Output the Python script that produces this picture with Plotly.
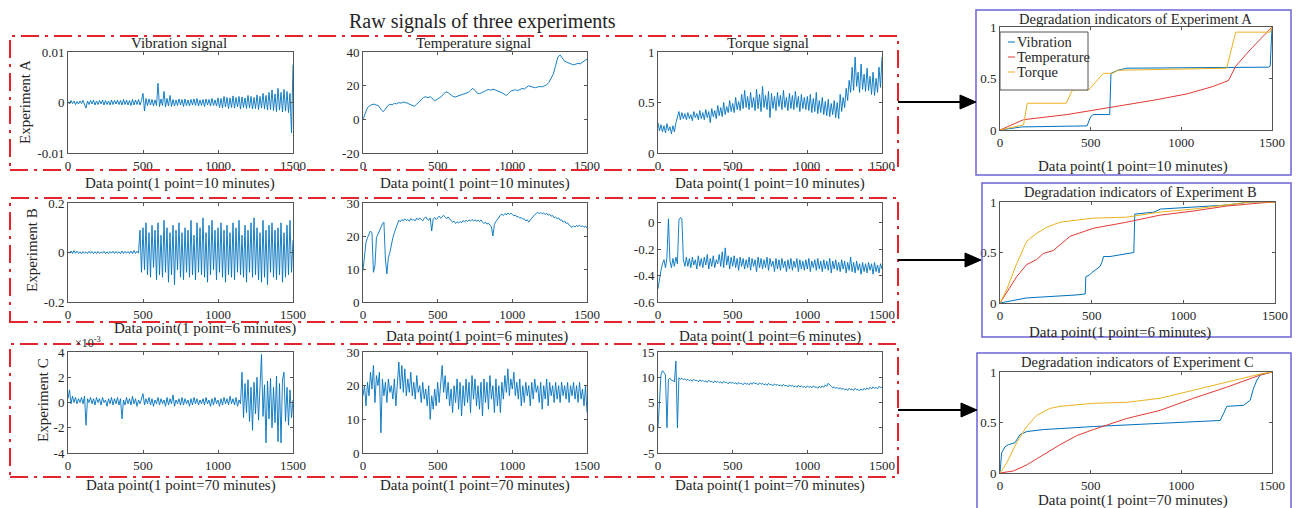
import numpy as np
import plotly.graph_objects as go

# ---------------- DATA ----------------
# x positions of raw signals: data-point index 0..1500 sampled evenly
# Experiment A
vib_a_x1e4 = [2,-3,4,-2,3,-4,2,-3,3,-2,
              4,-3,-11,3,-4,4,-3,5,-5,3,
              -4,4,-3,5,-5,4,-4,3,-5,5,
              -4,4,-3,5,-4,4,-5,6,-4,5,
              -5,4,-6,6,-5,5,-4,6,-5,4,
              18,-17,8,-6,7,-5,6,-7,5,-6,
              38,-8,7,-6,22,-9,8,-7,14,-8,
              6,-7,5,-6,7,-5,6,-8,7,-6,
              5,-7,6,-5,7,-6,8,-7,5,-6,
              6,-8,7,-5,6,-7,8,-6,5,-7,
              9,-10,8,-11,12,-9,10,-12,9,-10,
              13,-11,10,-9,12,-13,11,-10,9,-12,
              14,-11,12,-13,10,-12,15,-14,12,-11,
              18,-13,14,-15,20,-14,25,-16,17,-18,
              28,-15,20,-19,26,-17,22,-20,18,-60,
              75]
temp_a = [0,4,7,8,8.8,9,8.6,8,6,4.5,6,8,9,8.6,9.5,9.2,10,9.6,10.3,10,
          9.5,8.8,8.2,7.8,9,10.5,12,13,13.4,12.8,13.5,12.4,11,11.8,12.5,13.5,15,16.4,15.8,14.6,
          13.8,13.2,13.6,14.2,14.8,15.2,15.5,16,17.2,18.4,17.2,15.5,15.2,15.8,16.4,17,17.8,17.3,17.9,17.5,
          17,16.6,15.8,15,14.2,15.5,16.8,17.2,17.6,17,17.8,18.3,18,19,20,19.4,19,18.8,19.2,19.5,
          19.3,19.8,20.5,22,24.3,27,32,37,38.2,36,34.5,34,33.3,32.8,32.4,32.8,33.2,33,33.8,35,35.8]
torque_a = [0.30,0.22,0.28,0.21,0.27,0.20,0.29,0.22,0.26,0.19,
            0.27,0.21,0.30,0.36,0.41,0.33,0.40,0.34,0.39,0.33,
            0.40,0.34,0.38,0.32,0.41,0.35,0.39,0.33,0.42,0.34,
            0.40,0.33,0.43,0.35,0.41,0.30,0.44,0.36,0.42,0.34,
            0.47,0.37,0.45,0.36,0.50,0.38,0.46,0.40,0.52,0.41,
            0.49,0.40,0.55,0.43,0.51,0.42,0.58,0.44,0.62,0.45,
            0.56,0.43,0.60,0.45,0.55,0.42,0.63,0.44,0.58,0.41,
            0.66,0.45,0.57,0.43,0.61,0.35,0.59,0.44,0.56,0.42,
            0.60,0.46,0.57,0.43,0.62,0.45,0.55,0.42,0.59,0.44,
            0.57,0.43,0.61,0.45,0.56,0.41,0.58,0.44,0.55,0.43,
            0.56,0.42,0.58,0.40,0.54,0.41,0.60,0.39,0.52,0.40,
            0.55,0.38,0.51,0.37,0.53,0.36,0.49,0.38,0.52,0.35,
            0.50,0.34,0.58,0.41,0.55,0.45,0.64,0.52,0.72,0.60,
            0.85,0.62,0.95,0.66,0.80,0.60,0.88,0.63,0.78,0.61,
            0.84,0.62,0.76,0.58,0.80,0.57,0.74,0.60,0.85,0.65,
            0.95]
# Experiment B
vib_b = [0.004,-0.003,0.006,-0.004,0.008,-0.003,0.005,-0.004,0.003,-0.005,
         0.004,-0.003,0.003,-0.004,0.005,-0.003,0.004,-0.005,0.003,-0.004,
         0.004,-0.004,0.003,-0.003,0.005,-0.004,0.003,-0.005,0.004,-0.003,
         0.005,-0.004,0.004,-0.003,0.003,-0.005,0.006,-0.004,0.005,-0.003,
         0.004,-0.004,0.006,-0.005,0.008,-0.004,0.005,-0.003,0.09,-0.08,
         0.10,-0.07,0.12,-0.09,0.08,-0.10,0.11,-0.06,0.09,-0.11,
         0.12,-0.09,0.07,-0.10,0.13,-0.08,0.10,-0.12,0.08,-0.09,
         0.11,-0.13,0.09,-0.07,0.12,-0.10,0.08,-0.11,0.10,-0.08,
         0.09,-0.10,0.13,-0.09,0.07,-0.11,0.12,-0.08,0.10,-0.09,
         0.14,-0.10,0.08,-0.12,0.11,-0.09,0.13,-0.07,0.09,-0.11,
         0.10,-0.08,0.12,-0.10,0.09,-0.12,0.11,-0.09,0.08,-0.10,
         0.12,-0.11,0.10,-0.08,0.13,-0.09,0.07,-0.10,0.11,-0.12,
         0.09,-0.08,0.12,-0.10,0.14,-0.09,0.10,-0.11,0.08,-0.12,
         0.13,-0.10,0.09,-0.13,0.11,-0.08,0.12,-0.10,0.09,-0.11,
         0.10,-0.09,0.12,-0.12,0.08,-0.10,0.11,-0.09,0.13,-0.08,
         0.05]
temp_b = [9.6,14,18,19.5,20.6,21.5,21,9,11,19.5,20.5,21.5,22.8,23.7,24.2,13,8.5,13.5,15,18,
          19.5,21,22.5,24,24.8,24.3,25,24.6,25.2,24.7,
          25,24.5,25.3,24.8,25,24.6,25.4,24.9,25.5,25,
          24.6,25.3,25.8,25.1,24.8,25.5,21.5,25.2,25.6,25,
          25.6,26,25.4,25.9,26.3,25.7,25.2,25.8,25.1,24.6,
          24.2,24.5,23.8,24.3,23.9,24.4,24,24.7,24.2,24.8,
          24.4,24.9,24.5,25,24.6,24.9,24.5,24.8,24.4,24.9,
          24.2,23.8,24.2,23.6,23.9,23.4,22.8,20,23.5,24.4,
          25.2,25.6,26.3,26.6,26.2,26.8,26.4,27,26.5,26.9,
          26.6,26.1,26.4,25.8,25.9,25.4,25.6,25.1,25.2,24.6,
          24.9,24.2,24.8,25.4,26,26.5,26.8,27.2,26.8,27.1,
          26.7,27,26.5,26.9,26.3,26.6,26,26.2,25.5,25.8,
          25.2,25.5,24.8,24.9,24.2,24.5,23.8,24,23.3,22.8,
          22.6,23.1,22.7,23.2,22.9,23.3,22.8,23.1,22.6,23,
          22.4]
torque_b = [-0.50,-0.42,-0.36,-0.31,-0.28,-0.34,-0.26,0.03,-0.29,-0.34,
            -0.27,-0.33,-0.26,-0.31,0.02,0.04,0.03,-0.28,-0.33,-0.26,
            -0.33,-0.27,-0.34,-0.26,-0.32,-0.28,-0.35,-0.25,-0.33,-0.27,
            -0.34,-0.26,-0.32,-0.24,-0.35,-0.27,-0.33,-0.25,-0.34,-0.28,
            -0.31,-0.24,-0.33,-0.22,-0.34,-0.19,-0.32,-0.25,-0.35,-0.26,
            -0.33,-0.25,-0.34,-0.27,-0.36,-0.26,-0.33,-0.27,-0.35,-0.28,
            -0.34,-0.26,-0.36,-0.27,-0.33,-0.28,-0.37,-0.26,-0.34,-0.27,
            -0.35,-0.28,-0.34,-0.26,-0.36,-0.27,-0.33,-0.29,-0.37,-0.27,
            -0.35,-0.28,-0.36,-0.27,-0.34,-0.29,-0.37,-0.28,-0.35,-0.27,
            -0.36,-0.29,-0.34,-0.27,-0.37,-0.28,-0.35,-0.29,-0.36,-0.28,
            -0.35,-0.27,-0.37,-0.29,-0.34,-0.28,-0.36,-0.27,-0.35,-0.29,
            -0.37,-0.28,-0.35,-0.29,-0.36,-0.27,-0.38,-0.29,-0.35,-0.28,
            -0.36,-0.30,-0.37,-0.28,-0.35,-0.29,-0.38,-0.30,-0.36,-0.26,
            -0.37,-0.30,-0.38,-0.29,-0.36,-0.31,-0.39,-0.30,-0.37,-0.31,
            -0.38,-0.30,-0.36,-0.31,-0.39,-0.30,-0.37,-0.32,-0.38,-0.31,
            -0.35]
# Experiment C (vibration in units of 1e-3)
vib_c = [0.3,1.0,-0.1,0.5,0.0,0.4,-0.1,0.3,0.0,0.4,
         -0.1,0.5,-1.8,0.3,0.0,0.4,-0.1,0.3,-0.2,0.4,
         0.0,0.3,-0.2,0.4,0.0,0.2,-0.3,0.3,-0.1,0.4,
         -0.2,0.3,-0.1,0.4,-0.2,0.3,-1.3,0.2,-0.2,0.4,
         -0.1,0.3,-0.2,0.5,-0.1,0.3,-0.3,0.2,-0.1,0.4,
         0.7,-0.2,0.3,-0.1,0.4,-0.2,0.3,-0.3,0.2,-0.1,
         0.4,-0.2,0.3,-0.1,0.2,-0.3,0.4,-0.2,0.3,-0.1,
         0.6,-0.3,0.2,-0.1,0.3,-0.2,0.4,-0.2,0.3,-0.1,
         0.2,-0.3,0.3,-0.2,0.4,-0.1,0.3,-0.2,0.2,-0.1,
         0.3,-0.2,0.4,-0.1,0.2,-0.3,0.3,-0.2,0.4,-0.1,
         0.2,-0.3,0.3,-0.2,0.4,-0.1,0.3,-0.2,0.5,-0.1,
         0.3,-0.2,0.4,-0.3,0.2,-0.1,2.4,-1.2,1.5,-0.8,
         1.8,-1.5,1.2,-2.2,1.6,-0.9,2.0,-1.4,1.3,3.8,
         -1.1,1.4,-3.2,1.7,-1.3,1.9,-2.0,1.2,-1.6,2.1,
         -3.1,1.5,-3.2,1.8,2.4,-1.5,1.2,-1.8,1.0,-1.2,
         0.2]
temp_c = [17,20,14,21,17,24,19,26,15,23,
          20,24,6,22,17,21,15,22,18,20,
          16,22,14,21,27,19,26,18,25,17,
          22,18,24,17,21,16,23,18,20,15,
          21,16,19,14,20,10,17,13,19,14,
          21,15,20,26,18,23,16,21,14,19,
          12,20,15,22,13,21,11,20,14,22,
          15,21,12,23,16,22,14,20,13,21,
          11,22,15,21,13,23,16,20,12,22,
          14,20,12,21,16,23,18,25,17,22,
          19,24,17,21,16,22,14,20,15,21,
          17,20,14,21,16,22,18,20,15,21,
          13,20,16,22,14,21,17,20,15,21,
          16,20,15,21,17,20,16,21,15,20,
          17,21,16,20,15,21,16,19,14,20,
          12]
torque_c = [0,5,10.5,11.3,10.8,10.5,0,9.6,9.8,9.4,9.3,9.1,13.2,0,9.9,9.6,9.8,9.5,9.7,9.4,
            9.6,9.3,9.5,9.2,9.6,9.3,9.4,9.1,9.5,9.2,
            9.4,9.1,9.3,9.0,9.4,9.1,9.2,8.9,9.3,9.0,
            9.2,8.9,9.1,8.8,9.2,8.9,9.0,8.7,9.1,8.8,
            9.0,8.7,8.9,8.6,9.0,8.7,8.8,8.5,8.9,8.6,
            8.8,8.5,8.9,8.6,9.0,8.7,8.8,8.5,8.9,8.6,
            8.8,8.5,8.7,8.4,8.8,8.5,8.6,8.3,8.7,8.4,
            8.6,8.3,8.5,8.2,8.6,8.3,8.4,8.1,8.5,8.2,
            8.4,8.1,8.3,8.0,8.4,8.1,8.3,8.0,8.2,7.9,
            8.3,8.0,8.2,7.9,8.3,8.0,8.1,7.8,8.2,7.9,
            8.3,8.0,8.5,8.2,8.8,8.4,8.2,7.9,8.1,7.8,
            8.0,7.7,7.9,7.6,7.8,7.5,7.7,7.4,7.8,7.5,
            7.7,7.4,7.8,7.5,7.6,7.3,7.7,7.4,7.8,7.5,
            7.9,7.6,8.0,7.7,8.1,7.8,8.0,7.7,8.2,7.9,
            8.1]

# Degradation indicators (breakpoints)
ind_a_vib_x = [0, 120, 480, 500, 515, 605, 612, 650, 700, 1480, 1490, 1500]
ind_a_vib_y = [0, 0.03, 0.04, 0.13, 0.15, 0.15, 0.55, 0.58, 0.60, 0.61, 0.62, 1.0]
ind_a_tmp_x = [0, 130, 370, 620, 850, 1030, 1170, 1260, 1300, 1380, 1500]
ind_a_tmp_y = [0, 0.10, 0.15, 0.22, 0.29, 0.35, 0.42, 0.48, 0.62, 0.78, 1.0]
ind_a_trq_x = [0, 100, 130, 150, 365, 400, 490, 570, 620, 650, 1250, 1300, 1490, 1500]
ind_a_trq_y = [0, 0.04, 0.05, 0.26, 0.26, 0.39, 0.39, 0.55, 0.55, 0.58, 0.60, 0.95, 0.95, 1.0]

ind_b_vib_x = [0, 90, 145, 420, 465, 468, 490, 500, 530, 545, 555, 565, 600, 655, 730, 735, 840, 875, 1050, 1240, 1365, 1500]
ind_b_vib_y = [0, 0.03, 0.05, 0.08, 0.09, 0.26, 0.28, 0.30, 0.34, 0.36, 0.40, 0.46, 0.46, 0.48, 0.50, 0.88, 0.90, 0.93, 0.95, 0.97, 1.0, 1.0]
ind_b_tmp_x = [0, 27, 91, 145, 200, 236, 291, 382, 509, 691, 873, 1054, 1236, 1418, 1500]
ind_b_tmp_y = [0, 0.08, 0.26, 0.38, 0.43, 0.49, 0.52, 0.66, 0.74, 0.80, 0.87, 0.91, 0.96, 0.99, 1.0]
ind_b_trq_x = [0, 36, 91, 145, 200, 255, 327, 509, 691, 873, 1054, 1236, 1364, 1500]
ind_b_trq_y = [0, 0.13, 0.39, 0.61, 0.69, 0.75, 0.80, 0.84, 0.85, 0.90, 0.93, 0.97, 1.0, 1.0]

ind_c_vib_x = [0, 9, 28, 46, 83, 110, 147, 239, 515, 883, 1214, 1233, 1251, 1343, 1380, 1398, 1417, 1435, 1500]
ind_c_vib_y = [0, 0.20, 0.26, 0.28, 0.30, 0.38, 0.41, 0.43, 0.46, 0.49, 0.52, 0.59, 0.66, 0.67, 0.72, 0.84, 0.92, 0.97, 1.0]
ind_c_tmp_x = [0, 74, 147, 239, 331, 423, 515, 699, 883, 1067, 1251, 1435, 1500]
ind_c_tmp_y = [0, 0.02, 0.08, 0.18, 0.28, 0.37, 0.43, 0.54, 0.62, 0.74, 0.85, 0.97, 1.0]
ind_c_trq_x = [0, 37, 92, 147, 202, 276, 331, 515, 699, 883, 1067, 1251, 1435, 1500]
ind_c_trq_y = [0, 0.10, 0.30, 0.46, 0.57, 0.64, 0.66, 0.69, 0.70, 0.74, 0.82, 0.90, 0.98, 1.0]

x_ticks = [0, 500, 1000, 1500]
x_labels = ["Data point(1 point=10 minutes)", "Data point(1 point=6 minutes)", "Data point(1 point=70 minutes)"]
legend_names = ["Vibration", "Temperature", "Torque"]

# ---------------- STYLE / LAYOUT ----------------
W, H = 1296, 508
def px(x): return x / W
def py(y): return 1 - y / H

FONT = "Liberation Serif, Times New Roman, serif"
TXT = "#262626"
AX = "#555555"
BLUE = "#0072BD"
RED = "#E23A34"
ORANGE = "#EDB120"
BOXRED = "#E5252E"
BOXBLUE = "#6B63D6"

fig = go.Figure()
layout = dict(width=W, height=H, margin=dict(l=0, r=0, t=0, b=0, autoexpand=False),
              template="none",
              paper_bgcolor="white", plot_bgcolor="white", showlegend=False,
              font=dict(family=FONT, color=TXT))

def add_axes(n, xpx, ypx, yrange, ytv, ytt, tsize=13):
    sfx = "" if n == 1 else str(n)
    common = dict(showline=True, mirror="ticks", linecolor=AX, linewidth=1,
                  ticks="inside", ticklen=3, tickcolor=AX, showgrid=False,
                  zeroline=False, automargin=False,
                  tickfont=dict(family=FONT, size=tsize, color=TXT))
    layout["xaxis" + sfx] = dict(domain=[px(xpx[0]), px(xpx[1])], range=[0, 1500],
                                 tickvals=x_ticks, ticktext=[str(v) for v in x_ticks],
                                 anchor="y" + sfx, **common)
    layout["yaxis" + sfx] = dict(domain=[py(ypx[1]), py(ypx[0])], range=yrange,
                                 tickvals=ytv, ticktext=ytt, anchor="x" + sfx, **common)
    return "x" + sfx, "y" + sfx

def raw_trace(xa, ya, yvals, width=0.8):
    xs = np.linspace(0, 1500, len(yvals))
    fig.add_trace(go.Scatter(x=xs, y=yvals, mode="lines", xaxis=xa, yaxis=ya,
                             line=dict(color=BLUE, width=width), hoverinfo="skip"))

cols = [(68, 293), (363, 587), (658, 882)]
rows = [(52, 153), (203, 302), (352, 453)]

vib_a = [v * 1e-4 for v in vib_a_x1e4]
raw = [
    [(vib_a, [-0.01, 0.01], [-0.01, 0, 0.01], ["-0.01", "0", "0.01"]),
     (temp_a, [-20, 40], [-20, 0, 20, 40], ["-20", "0", "20", "40"]),
     (torque_a, [0, 1], [0, 0.5, 1], ["0", "0.5", "1"])],
    [(vib_b, [-0.2, 0.2], [-0.2, 0, 0.2], ["-0.2", "0", "0.2"]),
     (temp_b, [0, 30], [0, 10, 20, 30], ["0", "10", "20", "30"]),
     (torque_b, [-0.6, 0.15], [-0.6, -0.4, -0.2, 0], ["-0.6", "-0.4", "-0.2", "0"])],
    [(vib_c, [-4, 4], [-4, -2, 0, 2, 4], ["-4", "-2", "0", "2", "4"]),
     (temp_c, [0, 30], [0, 10, 20, 30], ["0", "10", "20", "30"]),
     (torque_c, [-5, 15], [-5, 0, 5, 10, 15], ["-5", "0", "5", "10", "15"])],
]
n = 1
for r in range(3):
    for c in range(3):
        yv, yr, tv, tt = raw[r][c]
        xa, ya = add_axes(n, cols[c], rows[r], yr, tv, tt)
        raw_trace(xa, ya, yv, width=0.9)
        n += 1

ind_axes = [((1000, 1272), (27, 130)), ((1000, 1275), (202, 303)), ((1000, 1272), (372, 473))]
ind_data = [
    [(ind_a_vib_x, ind_a_vib_y), (ind_a_tmp_x, ind_a_tmp_y), (ind_a_trq_x, ind_a_trq_y)],
    [(ind_b_vib_x, ind_b_vib_y), (ind_b_tmp_x, ind_b_tmp_y), (ind_b_trq_x, ind_b_trq_y)],
    [(ind_c_vib_x, ind_c_vib_y), (ind_c_tmp_x, ind_c_tmp_y), (ind_c_trq_x, ind_c_trq_y)],
]
colors3 = [BLUE, RED, ORANGE]
for i in range(3):
    xa, ya = add_axes(n, ind_axes[i][0], ind_axes[i][1], [0, 1], [0, 0.5, 1], ["0", "0.5", "1"])
    for k in range(3):
        xs, ys = ind_data[i][k]
        fig.add_trace(go.Scatter(x=xs, y=ys, mode="lines", xaxis=xa, yaxis=ya, name=legend_names[k],
                                 line=dict(color=colors3[k], width=1), hoverinfo="skip"))
    n += 1

# ---------------- annotations ----------------
ann = []
def text(t, x, y, size, angle=0, xanchor="center"):
    ann.append(dict(text=t, x=px(x), y=py(y), xref="paper", yref="paper", showarrow=False,
                    xanchor=xanchor, yanchor="middle", textangle=angle,
                    font=dict(family=FONT, size=size, color=TXT)))

text("Raw signals of three experiments", 482, 21, 20)
text("Vibration signal", 179, 43, 15)
text("Temperature signal", 473, 43, 15)
text("Torque signal", 768, 43, 15)
text("Experiment A", 25, 102, 15, -90)
text("Experiment B", 32, 250, 15, -90)
text("Experiment C", 43, 400, 15, -90)
for cx in (180, 475, 770):
    text(x_labels[0], cx, 183, 15)
text(x_labels[1], 205, 328, 15)
text(x_labels[1], 477, 336, 15)
text(x_labels[1], 770, 336, 15)
for cx in (181, 475, 770):
    text(x_labels[2], cx, 485, 15)
text("×10<sup>-3</sup>", 88, 342, 12)

text("Degradation indicators of Experiment A", 1135, 19, 14.5)
text("Degradation indicators of Experiment B", 1140, 192, 14.5)
text("Degradation indicators of Experiment C", 1137, 362, 14.5)
text(x_labels[0], 1133, 166, 15)
text(x_labels[1], 1120, 332, 15)
text(x_labels[2], 1133, 500, 15)

# legend (Experiment A indicator panel)
shapes = []
shapes.append(dict(type="rect", xref="paper", yref="paper", x0=px(1000), x1=px(1088),
                   y0=py(90), y1=py(32), line=dict(color=AX, width=1), fillcolor="white", layer="above"))
for k, yy in enumerate((42, 57, 72)):
    shapes.append(dict(type="line", xref="paper", yref="paper", x0=px(1008), x1=px(1015),
                       y0=py(yy), y1=py(yy), line=dict(color=colors3[k], width=1), layer="above"))
    ann.append(dict(text=legend_names[k], x=px(1015), y=py(yy), xref="paper", yref="paper",
                    showarrow=False, xanchor="left", yanchor="middle",
                    font=dict(family=FONT, size=14.5, color=TXT)))

# red dash-dot frames
for (y0, y1) in ((36, 170), (198, 322), (344, 477)):
    shapes.append(dict(type="rect", xref="paper", yref="paper", x0=px(10), x1=px(898),
                       y0=py(y1), y1=py(y0), line=dict(color=BOXRED, width=2, dash="18px,6px,3px,6px")))
# blue frames
for (x0, y0, y1) in ((976, 10, 175), (982, 183, 337), (977, 353, 520)):
    shapes.append(dict(type="rect", xref="paper", yref="paper", x0=px(x0), x1=px(1291),
                       y0=py(y1), y1=py(y0), line=dict(color=BOXBLUE, width=1.5)))
# arrows
for (yy, tip) in ((102, 976), (260, 981), (410, 977)):
    shapes.append(dict(type="line", xref="paper", yref="paper", x0=px(898), x1=px(tip - 14),
                       y0=py(yy), y1=py(yy), line=dict(color="black", width=2)))
    path = f"M {px(tip-16)} {py(yy-7)} L {px(tip)} {py(yy)} L {px(tip-16)} {py(yy+7)} Z"
    shapes.append(dict(type="path", xref="paper", yref="paper", path=path,
                       fillcolor="black", line=dict(color="black", width=1)))

layout["annotations"] = ann
layout["shapes"] = shapes
fig.update_layout(**layout)
fig.write_html("out.html", config={"displayModeBar": False},
               post_script="document.body.style.margin='0';document.body.style.overflow='hidden';")
